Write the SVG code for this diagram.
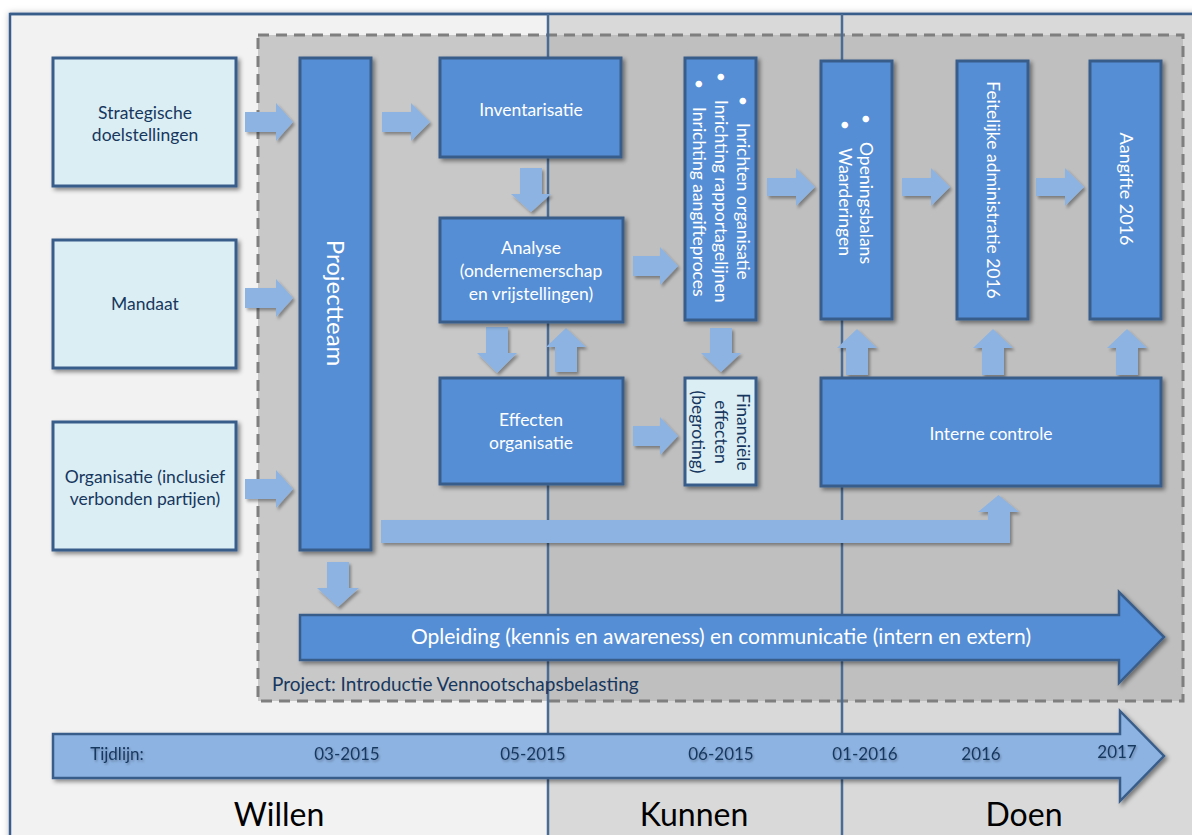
<svg xmlns="http://www.w3.org/2000/svg" width="1192" height="835" viewBox="0 0 1192 835">
<defs>
<filter id="sh" x="-10%" y="-10%" width="130%" height="130%"><feDropShadow dx="2.5" dy="2.5" stdDeviation="2" flood-color="#000" flood-opacity="0.45"/></filter>
<filter id="sha" x="-20%" y="-20%" width="150%" height="150%"><feDropShadow dx="2" dy="2.5" stdDeviation="1.8" flood-color="#000" flood-opacity="0.35"/></filter>
<filter id="frm" x="-5%" y="-5%" width="110%" height="110%"><feDropShadow dx="0" dy="0" stdDeviation="3" flood-color="#000" flood-opacity="0.25"/></filter>
<filter id="ts" x="-10%" y="-30%" width="120%" height="160%"><feDropShadow dx="1" dy="1.5" stdDeviation="1" flood-color="#000" flood-opacity="0.3"/></filter>
<style>
text{font-family:Lato,"Liberation Sans",sans-serif}
.box{fill:#558ed5;stroke:#385d8a;stroke-width:3;filter:url(#sh)}
.lbox{fill:#dbeef4;stroke:#385d8a;stroke-width:3;filter:url(#sh)}
.arr{fill:#8db3e2;filter:url(#sha)}
.wt{fill:#ffffff;font-size:17.5px;text-anchor:middle}
.wts{fill:#ffffff;font-size:17.5px;text-anchor:start}
.dt{fill:#17375e;font-size:17.5px;text-anchor:middle}
.div{stroke:#4a6b94;stroke-width:2.5}
.tl{fill:#17375e;font-size:17px;text-anchor:middle;filter:url(#ts)}
.ph{fill:#000;font-size:32px;text-anchor:middle}
</style>
</defs>
<rect x="0" y="0" width="1192" height="835" fill="#ffffff"/>
<g id="background">
<rect x="10" y="14" width="1190" height="830" fill="#f2f2f2" stroke="#385d8a" stroke-width="2.5" filter="url(#frm)"/>
<rect x="548" y="14" width="650" height="830" fill="#d9d9d9"/>
<line x1="10" y1="14" x2="1192" y2="14" stroke="#385d8a" stroke-width="2.5"/>
</g>
<g id="project-area">
<rect x="258" y="35" width="925" height="666" fill="#b0b0b0" fill-opacity="0.64" stroke="#7f7f7f" stroke-width="3" stroke-dasharray="11 7"/>
</g>
<g id="dividers">
<line class="div" x1="548" y1="14" x2="548" y2="835"/>
<line class="div" x1="842" y1="14" x2="842" y2="835"/>
</g>
<g id="connectors">
<path class="arr" d="M245,112 H276 V103 L293,122 L276,141 V132 H245 Z"/>
<path class="arr" d="M245,288 H276 V279 L293,298 L276,317 V308 H245 Z"/>
<path class="arr" d="M245,479 H276 V470 L293,489 L276,508 V499 H245 Z"/>
<path class="arr" d="M382,112 H411 V103 L430,122 L411,141 V132 H382 Z"/>
<path class="arr" d="M520,168 H542 V194 H551 L531,212 L511,194 H520 Z"/>
<path class="arr" d="M633,256 H660 V247 L678,266 L660,285 V276 H633 Z"/>
<path class="arr" d="M633,426 H660 V417 L678,436 L660,455 V446 H633 Z"/>
<path class="arr" d="M486,327 H508 V353 H517 L497,373 L477,353 H486 Z"/>
<path class="arr" d="M555,372 V347 H546 L566,328 L586,347 H577 V372 Z"/>
<path class="arr" d="M710,328 H732 V353 H741 L721,372 L701,353 H710 Z"/>
<path class="arr" d="M767,178 H796 V168 L815,187 L796,206 V196 H767 Z"/>
<path class="arr" d="M902,178 H931 V168 L950,187 L931,206 V196 H902 Z"/>
<path class="arr" d="M1036,178 H1065 V168 L1084,187 L1065,206 V196 H1036 Z"/>
<path class="arr" d="M846,375 V348 H837 L857,329 L877,348 H868 V375 Z"/>
<path class="arr" d="M982,375 V348 H973 L993,329 L1013,348 H1004 V375 Z"/>
<path class="arr" d="M1116,375 V348 H1107 L1127,329 L1147,348 H1138 V375 Z"/>
<path class="arr" d="M381,520 H988 V512 H978 L998.5,495 L1019,512 H1010 V543 H381 Z"/>
<path class="arr" d="M327,562 H349 V588 H359 L338,607 L317,588 H327 Z"/>
</g>
<g id="node-strategische">
<rect class="lbox" x="53" y="58" width="183" height="128"/>
<text class="dt" x="145" y="119">Strategische</text>
<text class="dt" x="145" y="141">doelstellingen</text>
</g>
<g id="node-mandaat">
<rect class="lbox" x="53" y="240" width="183" height="128"/>
<text class="dt" x="145" y="310">Mandaat</text>
</g>
<g id="node-organisatie">
<rect class="lbox" x="53" y="422" width="183" height="128"/>
<text class="dt" x="145" y="483">Organisatie (inclusief</text>
<text class="dt" x="145" y="505">verbonden partijen)</text>
</g>
<g id="node-projectteam">
<rect class="box" x="300" y="58" width="71" height="492"/>
<text class="wt" transform="translate(335,303) rotate(90)" y="8.4" style="font-size:24px">Projectteam</text>
</g>
<g id="node-inventarisatie">
<rect class="box" x="440" y="58" width="181" height="99"/>
<text class="wt" x="531" y="116">Inventarisatie</text>
</g>
<g id="node-analyse">
<rect class="box" x="440" y="218" width="183" height="104"/>
<text class="wt" x="531" y="254">Analyse</text>
<text class="wt" x="531" y="277">(ondernemerschap</text>
<text class="wt" x="531" y="300">en vrijstellingen)</text>
</g>
<g id="node-effecten">
<rect class="box" x="440" y="378" width="183" height="106"/>
<text class="wt" x="531" y="426">Effecten</text>
<text class="wt" x="531" y="449">organisatie</text>
</g>
<g id="node-inrichten">
<rect class="box" x="685" y="58" width="71" height="262"/>
<g transform="translate(721,0) rotate(90)">
<text class="wt" x="101" y="-16">•</text>
<text class="wts" x="123" y="-16">Inrichten organisatie</text>
<text class="wt" x="77" y="6">•</text>
<text class="wts" x="100" y="6">Inrichting rapportagelijnen</text>
<text class="wt" x="84" y="28">•</text>
<text class="wts" x="107" y="28">Inrichting aangifteproces</text>
</g>
</g>
<g id="node-financiele">
<rect class="lbox" x="685" y="378" width="71" height="107"/>
<g transform="translate(721,432) rotate(90)">
<text class="dt" x="0" y="-16">Financiële</text>
<text class="dt" x="0" y="6">effecten</text>
<text class="dt" x="0" y="29">(begroting)</text>
</g>
</g>
<g id="node-openingsbalans">
<rect class="box" x="821" y="61" width="71" height="258"/>
<g transform="translate(856,0) rotate(90)">
<text class="wt" x="119" y="-4">•</text>
<text class="wts" x="142" y="-4">Openingsbalans</text>
<text class="wt" x="125" y="17">•</text>
<text class="wts" x="148" y="17">Waarderingen</text>
</g>
</g>
<g id="node-feitelijke">
<rect class="box" x="957" y="61" width="71" height="258"/>
<text class="wt" transform="translate(993,190) rotate(90)" y="6">Feitelijke administratie 2016</text>
</g>
<g id="node-aangifte">
<rect class="box" x="1090" y="61" width="71" height="258"/>
<text class="wt" transform="translate(1126,189) rotate(90)" y="6" style="font-size:18px">Aangifte 2016</text>
</g>
<g id="node-interne-controle">
<rect class="box" x="821" y="378" width="340" height="108"/>
<text class="wt" x="991" y="440">Interne controle</text>
</g>
<g id="node-opleiding">
<path d="M300,615 H1119 V592 L1164,637 L1119,683 V660 H300 Z" fill="#558ed5" stroke="#385d8a" stroke-width="2.5" filter="url(#sh)"/>
<text class="wt" x="721" y="644" style="font-size:21px">Opleiding (kennis en awareness) en communicatie (intern en extern)</text>
</g>
<text x="272" y="691" fill="#17375e" style="font-size:19px">Project: Introductie Vennootschapsbelasting</text>
<g id="timeline">
<path d="M53,734 H1120 V711 L1164,756 L1120,801 V778 H53 Z" fill="#8db3e2" stroke="#385d8a" stroke-width="2.5" filter="url(#sh)"/>
<text class="tl" x="117" y="760">Tijdlijn:</text>
<text class="tl" x="347" y="760">03-2015</text>
<text class="tl" x="533" y="760">05-2015</text>
<text class="tl" x="721" y="760">06-2015</text>
<text class="tl" x="865" y="760">01-2016</text>
<text class="tl" x="981" y="760">2016</text>
<text class="tl" x="1117" y="758">2017</text>
</g>
<g id="phases">
<text class="ph" x="279" y="826">Willen</text>
<text class="ph" x="694" y="826">Kunnen</text>
<text class="ph" x="1024" y="826">Doen</text>
</g>
</svg>
